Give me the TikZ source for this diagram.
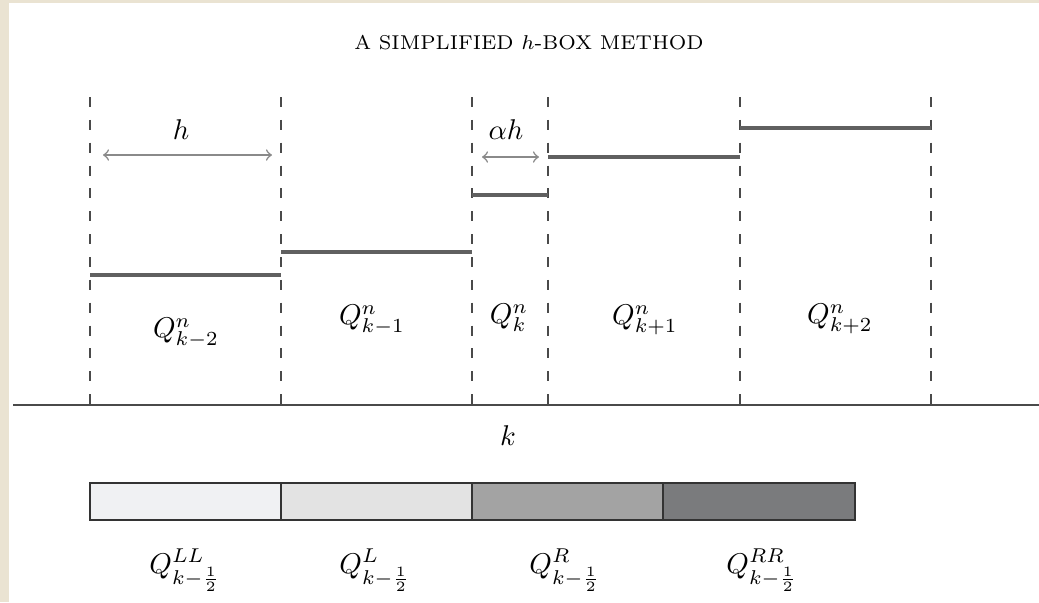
\documentclass[tikz,border=0pt]{standalone}
\usepackage{amsmath}
\definecolor{beige}{HTML}{EAE3D2}
\definecolor{dashgray}{HTML}{4A4A4A}
\definecolor{levelgray}{HTML}{606060}
\definecolor{arrgray}{HTML}{8A8A8A}
\definecolor{c1}{HTML}{F0F1F3}
\definecolor{c2}{HTML}{E3E3E3}
\definecolor{c3}{HTML}{A3A3A3}
\definecolor{c4}{HTML}{7A7B7D}
\tikzset{
  cellwall/.style={draw=dashgray, line width=0.75pt, dash pattern=on 3.5pt off 4.5pt},
  level/.style={draw=levelgray, line width=1.1pt},
  axisline/.style={draw=dashgray, line width=0.75pt},
  widtharrow/.style={draw=arrgray, line width=0.55pt, <->},
  lbl/.style={inner sep=0pt, font=\fontsize{10}{12}\selectfont},
  seg/.style={draw=black!80, line width=0.6pt},
}
\begin{document}
\begin{tikzpicture}[x=0.35pt, y=-0.35pt]
\fill[beige] (0,0) rectangle (1039,602);
\fill[white] (9,3) rectangle (1039,602);
\useasboundingbox (0,0) rectangle (1039,602);

% title
\node[inner sep=0pt, font=\fontsize{7}{8.4}\selectfont] (title) at (529,43) {A SIMPLIFIED $h$-BOX METHOD};

% cell wall coordinates
\foreach \n/\x in {a/90, b/281, c/472, d/548, e/740, f/931} {
  \coordinate (\n top) at (\x,97);
  \coordinate (\n bot) at (\x,405);
}
\foreach \n in {a,b,c,d,e,f} \draw[cellwall] (\n top) -- (\n bot);

% axis
\coordinate (axL) at (13,405);
\coordinate (axR) at (1039,405);
\draw[axisline] (axL) -- (axR);

% levels
\coordinate (l1a) at (90,275);  \coordinate (l1b) at (281,275);
\coordinate (l2a) at (281,252); \coordinate (l2b) at (472,252);
\coordinate (l3a) at (472,195); \coordinate (l3b) at (548,195);
\coordinate (l4a) at (548,157); \coordinate (l4b) at (740,157);
\coordinate (l5a) at (740,128); \coordinate (l5b) at (931,128);
\draw[level] (l1a) -- (l1b);
\draw[level] (l2a) -- (l2b);
\draw[level] (l3a) -- (l3b);
\draw[level] (l4a) -- (l4b);
\draw[level] (l5a) -- (l5b);

% width arrows
\coordinate (h1) at (103,155); \coordinate (h2) at (272,155);
\draw[widtharrow] (h1) -- (h2);
\node[lbl] (hlab) at (181,130) {$h$};
\coordinate (ah1) at (482,157); \coordinate (ah2) at (539,157);
\draw[widtharrow] (ah1) -- (ah2);
\node[lbl] (ahlab) at (506,130) {$\alpha h$};

% cell labels
\node[lbl] (q1) at (186,333) {$Q^n_{k-2}$};
\node[lbl] (q2) at (372,320) {$Q^n_{k-1}$};
\node[lbl] (q3) at (509,318) {$Q^n_{k}$};
\node[lbl] (q4) at (645,320) {$Q^n_{k+1}$};
\node[lbl] (q5) at (840,319) {$Q^n_{k+2}$};

\node[lbl] (k) at (508,436) {$k$};

% bar
\draw[seg, fill=c1] (90,483) rectangle (281,520);
\draw[seg, fill=c2] (281,483) rectangle (472,520);
\draw[seg, fill=c3] (472,483) rectangle (663,520);
\draw[seg, fill=c4] (663,483) rectangle (855,520);

\node[lbl] (bLL) at (185,570) {$Q^{LL}_{k-\frac{1}{2}}$};
\node[lbl] (bL) at (375,570) {$Q^{L}_{k-\frac{1}{2}}$};
\node[lbl] (bR) at (565,570) {$Q^{R}_{k-\frac{1}{2}}$};
\node[lbl] (bRR) at (762,570) {$Q^{RR}_{k-\frac{1}{2}}$};
\end{tikzpicture}
\end{document}
